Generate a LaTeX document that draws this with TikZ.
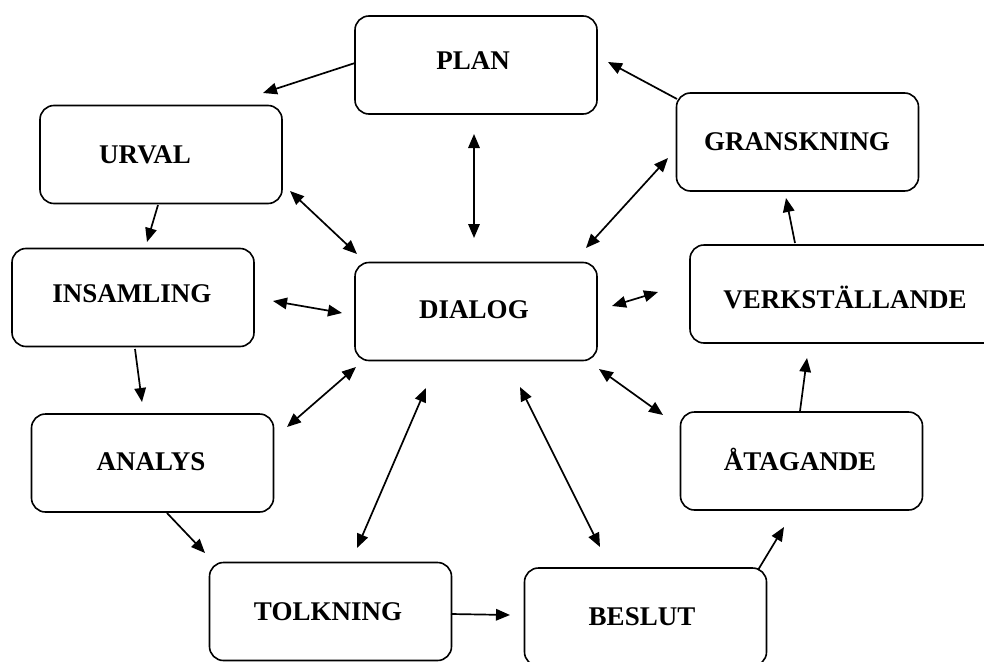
\documentclass[tikz,border=0pt]{standalone}
\usepackage{fontspec}
\setmainfont{Liberation Serif}
\usetikzlibrary{arrows.meta}
\tikzset{
  stagebox/.style={draw=black, line width=1.6pt, rounded corners=14pt, fill=white,
    minimum width=#1, minimum height=98pt, inner sep=0pt},
  stagebox/.default=242pt,
  stagetext/.style={font=\fontsize{27}{30}\selectfont\bfseries, inner sep=0pt},
  tipshape/.style={},
  flow/.style={line width=1.7pt, -{Triangle[length=14pt,width=11.5pt]}},
  talk/.style={line width=1.7pt, {Triangle[length=14pt,width=11.5pt]}-{Triangle[length=14pt,width=11.5pt]}}
}
\begin{document}
\begin{tikzpicture}[x=1pt,y=-1pt]
\useasboundingbox (0,0) rectangle (984,661);
\clip (0,0) rectangle (984,661);

% the ten stages
\node[stagebox] (plan)  at (476,65)    {};
\node[stagebox] (gran)  at (797.5,142) {};
\node[stagebox] (urval) at (161,154.5) {};
\node[stagebox] (insam) at (133,297.5) {};
\node[stagebox] (dialog) at (476,311.5) {};
\node[stagebox=310pt] (verk) at (845,294) {};
\node[stagebox] (analys) at (152.5,463) {};
\node[stagebox] (atag)  at (801.5,461) {};
\node[stagebox] (tolk)  at (330.5,611.5) {};
\node[stagebox] (beslut) at (645.5,617) {};

% stage names
\node[stagetext] (planT)   at (473,61)  {PLAN};
\node[stagetext] (granT)   at (797,142) {GRANSKNING};
\node[stagetext] (urvalT)  at (145,155) {URVAL};
\node[stagetext] (insamT)  at (132,294) {INSAMLING};
\node[stagetext] (dialogT) at (474,310) {DIALOG};
\node[stagetext] (verkT)   at (845,297) {VERKSTÄLLANDE};
\node[stagetext] (analysT) at (151,462) {ANALYS};
\node[stagetext] (atagT)   at (800,459) {ÅTAGANDE};
\node[stagetext] (tolkT)   at (328,612) {TOLKNING};
\node[stagetext] (beslutT) at (642,617) {BESLUT};

% connector end points
\coordinate (p1a) at (355,63);   \coordinate (p1b) at (263,93);
\coordinate (p2a) at (677,99);   \coordinate (p2b) at (608,62);
\coordinate (p3a) at (158,205);  \coordinate (p3b) at (147,242);
\coordinate (p4a) at (135,349);  \coordinate (p4b) at (142,402);
\coordinate (p5a) at (167,513);  \coordinate (p5b) at (205,553);
\coordinate (p6a) at (451,614);  \coordinate (p6b) at (510,615);
\coordinate (p7a) at (758,570);  \coordinate (p7b) at (784,527);
\coordinate (p8a) at (800,411);  \coordinate (p8b) at (807,358);
\coordinate (p9a) at (795,243);  \coordinate (p9b) at (786,198);

\coordinate (d1a) at (290,191);  \coordinate (d1b) at (357,254);
\coordinate (d2a) at (474,134);  \coordinate (d2b) at (474,238);
\coordinate (d3a) at (668,158);  \coordinate (d3b) at (586,248);
\coordinate (d4a) at (273,301);  \coordinate (d4b) at (342,313);
\coordinate (d5a) at (612,306);  \coordinate (d5b) at (658,292);
\coordinate (d6a) at (287,427);  \coordinate (d6b) at (356,367);
\coordinate (d7a) at (357,548);  \coordinate (d7b) at (426,388);
\coordinate (d8a) at (600,547);  \coordinate (d8b) at (520,387);
\coordinate (d9a) at (599,369);  \coordinate (d9b) at (663,415);

% cycle of stages
\draw[flow] (p1a) -- (p1b);
\draw[flow] (p2a) -- (p2b);
\draw[flow] (p3a) -- (p3b);
\draw[flow] (p4a) -- (p4b);
\draw[flow] (p5a) -- (p5b);
\draw[flow] (p6a) -- (p6b);
\draw[flow] (p7a) -- (p7b);
\draw[flow] (p8a) -- (p8b);
\draw[flow] (p9a) -- (p9b);

% dialogue with every stage
\draw[talk] (d1a) -- (d1b);
\draw[talk] (d2a) -- (d2b);
\draw[talk] (d3a) -- (d3b);
\draw[talk] (d4a) -- (d4b);
\draw[talk] (d5a) -- (d5b);
\draw[talk] (d6a) -- (d6b);
\draw[talk] (d7a) -- (d7b);
\draw[talk] (d8a) -- (d8b);
\draw[talk] (d9a) -- (d9b);
\end{tikzpicture}
\end{document}
